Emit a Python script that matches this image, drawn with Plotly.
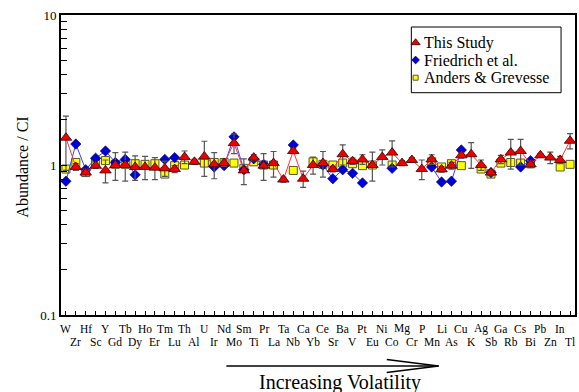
import plotly.graph_objects as go

elements = ["W","Zr","Hf","Sc","Y","Gd","Tb","Dy","Ho","Er","Tm","Lu","Th","Al","U","Ir",
            "Nd","Mo","Sm","Ti","Pr","La","Ta","Nb","Ca","Yb","Ce","Sr","Ba","V","Pt","Eu",
            "Ni","Co","Mg","Cr","P","Mn","Li","As","Cu","K","Ag","Sb","Ga","Rb","Cs","Bi",
            "Pb","Zn","In","Tl"]

this_study = [1.52,0.97,0.89,0.99,0.92,1.00,1.00,0.97,0.97,0.96,0.95,0.94,1.13,1.05,1.14,1.01,
              1.03,1.40,0.92,1.12,0.99,1.03,0.80,1.24,0.81,1.00,1.03,0.94,1.18,1.06,1.09,1.00,
              1.13,1.21,1.03,1.08,0.94,1.09,0.935,0.99,1.16,1.18,1.00,0.89,1.09,1.21,1.24,1.01,
              1.16,1.12,1.08,1.45]
this_study_err = [0.6,0.05,0.05,0.04,0.16,0.21,0.22,0.18,0.17,0.16,0.11,0.05,0.11,0.04,0.3,0.2,
                  0.05,0.21,0.18,0.05,0.2,0.2,0.03,0.05,0.1,0.13,0.2,0.04,0.18,0.05,0.08,0.22,
                  0.13,0.24,0.04,0.04,0.14,0.08,0.04,0.05,0.05,0.23,0.08,0.04,0.07,0.27,0.24,0.05,
                  0.03,0.1,0.06,0.17]
friedrich = [0.78,1.38,0.93,1.11,1.24,1.04,1.09,0.86,None,None,1.09,1.12,None,None,None,0.97,
             0.99,1.54,0.93,1.10,1.01,None,None,1.36,None,None,1.00,0.81,0.93,0.88,0.76,None,
             None,0.95,None,None,None,0.97,0.77,0.78,1.26,None,None,0.89,None,None,0.97,1.07,
             None,None,None,None]
anders = [0.94,1.04,0.89,1.03,1.07,1.01,1.01,1.02,1.01,1.02,0.87,0.99,1.00,None,1.03,1.04,
          1.04,1.03,0.95,1.05,1.00,1.00,None,0.92,None,1.05,1.01,1.00,1.03,1.02,0.99,1.00,
          None,1.00,None,None,None,1.05,0.97,1.02,0.99,None,0.94,0.87,1.03,1.04,1.03,1.02,
          None,None,0.97,1.01]

series_names = ["This Study", "Friedrich et al.", "Anders & Grevesse"]
y_tick_vals = [0.1,0.2,0.3,0.4,0.5,0.6,0.7,0.8,0.9,1,2,3,4,5,6,7,8,9,10]
y_tick_text = ["0.1"] + [""]*8 + ["1"] + [""]*8 + ["10"]

idx = list(range(len(elements)))
FONT = "Liberation Serif, Times New Roman, serif"

# layout geometry (pixels)
W, H = 579, 392
L, R, T, B = 61, 2, 15, 77
PW, PH = W - L - R, H - T - B
def px(x): return (x - L) / PW
def py(y): return (H - B - y) / PH

red_style = dict(symbol="triangle-up", size=10, color="#ee0000", line=dict(color="#330000", width=0.8))
blue_style = dict(symbol="diamond", size=8, color="#0000dd", line=dict(color="#000044", width=0.6))
yel_style = dict(symbol="square", size=8, color="#ffff00", line=dict(color="#555533", width=1))

fig = go.Figure()
fig.add_trace(go.Scatter(x=idx, y=anders, mode="markers", marker=yel_style,
                         name=series_names[2], showlegend=False))
fig.add_trace(go.Scatter(x=idx, y=friedrich, mode="lines+markers", marker=blue_style,
                         line=dict(color="#3344ff", width=1), name=series_names[1], showlegend=False))
fig.add_trace(go.Scatter(x=idx, y=this_study, mode="lines+markers", marker=red_style,
                         line=dict(color="#ff3333", width=1), name=series_names[0], showlegend=False,
                         error_y=dict(type="data", array=this_study_err, color="#555555",
                                      thickness=1.2, width=3)))

# custom legend (overlay axis in paper units)
leg_rows = [42.7, 60.0, 77.7]
for name, st, yy in zip(series_names, [red_style, blue_style, dict(yel_style, size=7)], leg_rows):
    fig.add_trace(go.Scatter(x=[px(417)], y=[py(yy)], mode="markers",
                             marker=dict(st, size=st["size"] - 2), xaxis="x2", yaxis="y2",
                             showlegend=False, cliponaxis=False, hoverinfo="skip"))
    fig.add_annotation(x=px(423), y=py(yy), xref="paper", yref="paper", text=name,
                       showarrow=False, xanchor="left", yanchor="middle",
                       font=dict(family=FONT, size=16, color="black"))
fig.add_shape(type="rect", xref="paper", yref="paper", x0=px(412.7), x1=px(563),
              y0=py(27), y1=py(92.7), line=dict(color="black", width=1), fillcolor="white",
              layer="below")

# element labels in two rows
for i, el in enumerate(elements):
    fig.add_annotation(x=i, xref="x", yref="paper", y=py(328.5 if i % 2 == 0 else 342),
                       text=el, showarrow=False, xanchor="center", yanchor="middle",
                       font=dict(family=FONT, size=11.5, color="black"))

# y-axis title
fig.add_annotation(x=px(22), y=py(167.5), xref="paper", yref="paper", text="Abundance / CI",
                   textangle=-90, showarrow=False, xanchor="center", yanchor="middle",
                   font=dict(family=FONT, size=16, color="black"))

# volatility arrow + label
for (x0, y0, x1, y1) in [(227, 366, 440, 366), (388, 359.5, 440, 366), (388, 372.5, 440, 366)]:
    fig.add_shape(type="line", xref="paper", yref="paper", x0=px(x0), y0=py(y0),
                  x1=px(x1), y1=py(y1), line=dict(color="black", width=1.3))
fig.add_annotation(x=px(341), y=py(382), xref="paper", yref="paper", text="Increasing Volatility",
                   showarrow=False, xanchor="center", yanchor="middle",
                   font=dict(family=FONT, size=20, color="black"))

fig.update_layout(
    width=W, height=H, margin=dict(l=L, r=R, t=T, b=B),
    paper_bgcolor="white", plot_bgcolor="white", showlegend=False,
    font=dict(family=FONT, color="black"),
    xaxis=dict(range=[-0.5, len(elements) - 0.5], tickvals=idx, showticklabels=False,
               ticks="inside", ticklen=4, tickwidth=1, tickcolor="black",
               showgrid=False, zeroline=False, showline=True, linecolor="black",
               linewidth=2, mirror=True),
    yaxis=dict(type="log", range=[-1, 1], tickvals=y_tick_vals, ticktext=y_tick_text,
               ticks="inside", ticklen=6, tickwidth=1, tickcolor="black",
               tickfont=dict(family=FONT, size=13, color="black"),
               showgrid=False, zeroline=False, showline=True, linecolor="black",
               linewidth=2, mirror=True),
    xaxis2=dict(overlaying="x", range=[0, 1], visible=False, domain=[0, 1]),
    yaxis2=dict(overlaying="y", range=[0, 1], visible=False, domain=[0, 1]),
)

fig.write_html("out.html", config={"displayModeBar": False},
               post_script="document.body.style.margin='0';document.body.style.overflow='hidden';")
